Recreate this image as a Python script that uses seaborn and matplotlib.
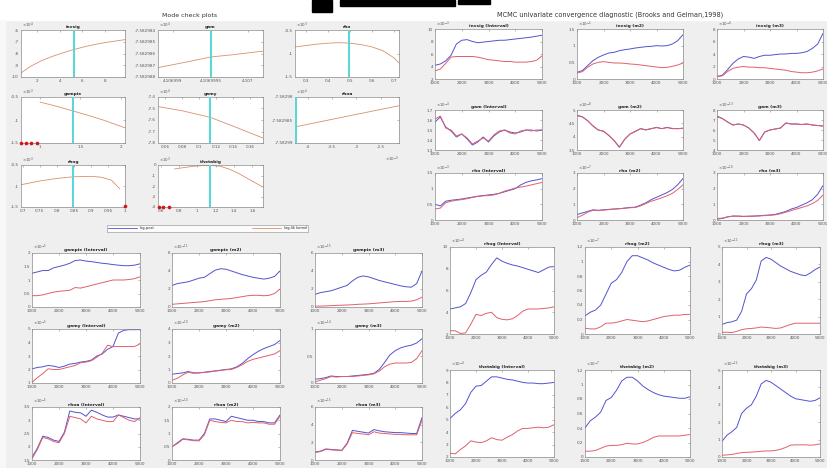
import numpy as np
import pandas as pd
import seaborn as sns
import matplotlib.pyplot as plt
from matplotlib.ticker import FuncFormatter
from matplotlib.patches import Rectangle
from matplotlib.lines import Line2D

W, H = 827, 468
BLUE = '#5252cf'
RED = '#e0606c'
KERNEL = '#d9906e'
CYAN = '#5cd6d6'
DOT = '#d01818'

# ---------------- mode check data (values in displayed units) ----------------
invsig_x = [0.55, 1.48, 2.4, 3.33, 4.25, 5.18, 6.1, 7.03, 7.95, 8.88, 9.8]
invsig_y = [-9.65, -9.05, -8.6, -8.25, -7.95, -7.68, -7.45, -7.25, -7.08, -6.95, -6.82]
invsig_mode = 5.3

gam_x = [4.1069988, 4.1069992, 4.1069995, 4.1069998, 4.1070002]
gam_y = [-7.5829872, -7.5829867, -7.5829863, -7.5829861, -7.5829858]
gam_mode = 4.1069995

rho_x = [0.249, 0.3, 0.35, 0.4, 0.45, 0.5, 0.55, 0.6, 0.65, 0.7, 0.7235]
rho_y = [-0.86, -0.83, -0.8, -0.78, -0.77, -0.78, -0.81, -0.86, -0.94, -1.09, -1.2]
rho_mode = 0.495

gampie_x = [1.0, 1.2, 1.4, 1.6, 1.8, 2.054]
gampie_y = [-0.61, -0.70, -0.80, -0.90, -1.01, -1.17]
gampie_mode = 1.405
gampie_bound = [0.77, 0.83, 0.89, 0.96]

gamy_x = [0.0513, 0.08, 0.1129, 0.14, 0.175]
gamy_y = [-7.483, -7.52, -7.577, -7.654, -7.757]
gamy_mode = 0.1129

rhoa_x = [-4.27, -3.2, -2.12]
rhoa_y = [-7.5829865, -7.5829842, -7.5829819]
rhoa_mode = -4.25

rhog_x = [0.695, 0.75, 0.8, 0.85, 0.9, 0.93, 0.96, 0.985]
rhog_y = [-0.97, -0.88, -0.82, -0.78, -0.77, -0.79, -0.86, -1.07]
rhog_mode = 0.848
rhog_bound = [1.0]

thetabig_x = [0.75, 0.85, 0.95, 1.05, 1.15, 1.25, 1.35, 1.45, 1.55, 1.716]
thetabig_y = [-0.38, -0.25, -0.13, -0.06, -0.04, -0.12, -0.4, -0.8, -1.3, -2.1]
thetabig_mode = 1.14
thetabig_bound = [0.58, 0.63, 0.69]

# ---------------- convergence diagnostic data ----------------
iters = list(range(1000, 5001, 200))

invsig_interval_pooled = [4.2, 4.4, 4.9, 5.8, 7.6, 8.2, 8.3, 8.0, 7.8, 7.9, 8.0, 8.1, 8.2, 8.2, 8.3, 8.4, 8.5, 8.6, 8.7, 8.85, 9.0]
invsig_interval_within = [3.3, 3.6, 4.5, 5.5, 5.6, 5.6, 5.6, 5.6, 5.5, 5.3, 5.1, 5.0, 4.9, 4.8, 4.8, 4.7, 4.7, 4.7, 4.8, 5.0, 5.7]
invsig_m2_pooled = [0.2, 0.25, 0.4, 0.55, 0.65, 0.72, 0.78, 0.8, 0.85, 0.88, 0.9, 0.93, 0.95, 0.97, 0.98, 1.0, 0.99, 1.0, 1.05, 1.15, 1.33]
invsig_m2_within = [0.18, 0.22, 0.35, 0.45, 0.5, 0.52, 0.5, 0.48, 0.48, 0.47, 0.45, 0.44, 0.42, 0.4, 0.38, 0.36, 0.34, 0.35, 0.38, 0.42, 0.48]
invsig_m3_pooled = [0.4, 0.6, 1.5, 2.5, 3.2, 3.6, 3.5, 3.3, 3.6, 3.8, 3.8, 3.9, 4.0, 4.0, 4.1, 4.1, 4.2, 4.4, 4.9, 5.6, 7.3]
invsig_m3_within = [0.4, 0.5, 1.2, 1.7, 1.9, 2.0, 1.9, 1.9, 1.8, 1.8, 1.7, 1.6, 1.5, 1.4, 1.2, 1.1, 1.0, 1.0, 1.1, 1.3, 1.6]

gam_interval_pooled = [1.58, 1.63, 1.53, 1.49, 1.43, 1.46, 1.41, 1.35, 1.38, 1.43, 1.38, 1.44, 1.48, 1.50, 1.48, 1.47, 1.48, 1.50, 1.50, 1.49, 1.50]
gam_interval_within = [1.61, 1.64, 1.52, 1.50, 1.44, 1.46, 1.42, 1.36, 1.39, 1.42, 1.39, 1.45, 1.49, 1.50, 1.47, 1.46, 1.49, 1.50, 1.49, 1.50, 1.50]
gam_m2_pooled = [4.8, 4.75, 4.6, 4.4, 4.25, 4.2, 4.05, 3.85, 3.6, 3.9, 4.1, 4.2, 4.3, 4.25, 4.3, 4.35, 4.3, 4.35, 4.3, 4.3, 4.32]
gam_m2_within = [4.78, 4.74, 4.6, 4.41, 4.25, 4.21, 4.04, 3.86, 3.62, 3.9, 4.1, 4.19, 4.3, 4.26, 4.3, 4.34, 4.3, 4.34, 4.31, 4.3, 4.31]
gam_m3_pooled = [7.4, 7.15, 6.8, 6.5, 6.6, 6.5, 6.2, 5.7, 4.95, 5.8, 6.0, 6.1, 6.2, 6.7, 6.6, 6.6, 6.55, 6.6, 6.5, 6.45, 6.4]
gam_m3_within = [7.3, 7.15, 6.8, 6.5, 6.6, 6.5, 6.2, 5.7, 4.95, 5.8, 6.0, 6.1, 6.2, 6.7, 6.6, 6.6, 6.55, 6.6, 6.5, 6.45, 6.4]

rho_interval_pooled = [0.5, 0.45, 0.6, 0.63, 0.65, 0.67, 0.7, 0.73, 0.76, 0.78, 0.8, 0.82, 0.85, 0.9, 0.95, 1.0, 1.12, 1.2, 1.25, 1.28, 1.32]
rho_interval_within = [0.35, 0.38, 0.55, 0.6, 0.63, 0.65, 0.68, 0.72, 0.75, 0.77, 0.78, 0.8, 0.85, 0.92, 0.97, 1.02, 1.05, 1.08, 1.12, 1.16, 1.2]
rho_m2_pooled = [0.35, 0.45, 0.55, 0.65, 0.62, 0.65, 0.68, 0.7, 0.72, 0.76, 0.8, 0.82, 0.95, 1.1, 1.3, 1.45, 1.6, 1.75, 1.95, 2.25, 2.65]
rho_m2_within = [0.15, 0.3, 0.5, 0.62, 0.6, 0.63, 0.66, 0.7, 0.72, 0.75, 0.78, 0.8, 0.9, 1.05, 1.2, 1.3, 1.42, 1.55, 1.7, 1.95, 2.25]
rho_m3_pooled = [0.05, 0.1, 0.2, 0.25, 0.25, 0.23, 0.24, 0.25, 0.27, 0.3, 0.32, 0.36, 0.45, 0.55, 0.7, 0.8, 0.95, 1.1, 1.3, 1.65, 2.2]
rho_m3_within = [0.1, 0.12, 0.2, 0.25, 0.24, 0.23, 0.24, 0.25, 0.26, 0.28, 0.3, 0.33, 0.4, 0.5, 0.6, 0.7, 0.8, 0.9, 1.05, 1.25, 1.6]

gampie_interval_pooled = [1.25, 1.3, 1.35, 1.35, 1.45, 1.5, 1.55, 1.62, 1.72, 1.74, 1.7, 1.68, 1.65, 1.62, 1.6, 1.57, 1.55, 1.53, 1.53, 1.55, 1.6]
gampie_interval_within = [0.42, 0.42, 0.45, 0.5, 0.55, 0.58, 0.6, 0.62, 0.72, 0.7, 0.75, 0.8, 0.85, 0.9, 0.95, 1.0, 1.0, 1.0, 1.02, 1.05, 1.12]
gampie_m2_pooled = [2.4, 2.6, 2.7, 2.8, 3.0, 3.2, 3.3, 3.7, 4.1, 4.25, 4.2, 4.0, 3.8, 3.6, 3.45, 3.3, 3.2, 3.1, 3.2, 3.4, 4.0]
gampie_m2_within = [0.3, 0.35, 0.4, 0.45, 0.5, 0.55, 0.6, 0.7, 0.8, 0.85, 0.9, 0.95, 1.05, 1.15, 1.25, 1.3, 1.3, 1.25, 1.3, 1.5, 2.0]
gampie_m3_pooled = [1.4, 1.6, 1.7, 1.8, 2.0, 2.2, 2.4, 2.9, 3.3, 3.45, 3.35, 3.15, 2.95, 2.8, 2.65, 2.5, 2.35, 2.25, 2.2, 2.6, 4.0]
gampie_m3_within = [0.1, 0.1, 0.12, 0.15, 0.18, 0.2, 0.22, 0.25, 0.3, 0.32, 0.35, 0.4, 0.45, 0.5, 0.55, 0.6, 0.62, 0.62, 0.65, 0.8, 1.1]

gamy_interval_pooled = [2.05, 2.15, 2.2, 2.3, 2.25, 2.15, 2.25, 2.4, 2.45, 2.55, 2.6, 2.7, 3.0, 3.15, 3.5, 3.7, 4.7, 4.9, 4.95, 4.95, 4.95]
gamy_interval_within = [1.05, 1.4, 1.7, 2.05, 2.0, 2.0, 2.1, 2.2, 2.3, 2.5, 2.55, 2.65, 2.9, 3.2, 3.8, 3.7, 3.7, 3.7, 3.7, 3.7, 3.9]
gamy_m2_pooled = [0.65, 0.7, 0.75, 0.85, 0.75, 0.75, 0.8, 0.85, 0.9, 0.95, 1.0, 1.05, 1.2, 1.45, 1.8, 2.1, 2.35, 2.55, 2.7, 2.85, 3.15]
gamy_m2_within = [0.2, 0.35, 0.6, 0.8, 0.72, 0.75, 0.78, 0.82, 0.88, 0.93, 0.98, 1.0, 1.15, 1.35, 1.6, 1.75, 1.85, 1.95, 2.05, 2.15, 2.4]
gamy_m3_pooled = [0.07, 0.08, 0.1, 0.13, 0.12, 0.12, 0.12, 0.13, 0.14, 0.15, 0.16, 0.18, 0.25, 0.38, 0.52, 0.6, 0.65, 0.68, 0.7, 0.74, 0.82]
gamy_m3_within = [0.02, 0.05, 0.08, 0.12, 0.11, 0.12, 0.12, 0.12, 0.13, 0.14, 0.15, 0.17, 0.22, 0.3, 0.35, 0.37, 0.37, 0.37, 0.38, 0.45, 0.6]

rhoa_interval_pooled = [1.6, 1.95, 2.4, 2.35, 2.25, 2.2, 2.55, 3.35, 3.3, 3.28, 3.15, 3.38, 3.3, 3.2, 3.12, 3.12, 3.2, 3.15, 3.1, 3.05, 3.05]
rhoa_interval_within = [1.55, 1.9, 2.35, 2.3, 2.2, 2.15, 2.5, 3.15, 3.1, 3.05, 2.9, 3.15, 3.05, 3.0, 2.95, 2.95, 3.2, 3.1, 3.0, 2.95, 3.1]
rhoa_m2_pooled = [0.5, 0.65, 0.8, 0.78, 0.75, 0.75, 1.0, 1.55, 1.55, 1.5, 1.45, 1.65, 1.6, 1.55, 1.5, 1.5, 1.45, 1.45, 1.4, 1.4, 1.7]
rhoa_m2_within = [0.5, 0.62, 0.78, 0.76, 0.73, 0.72, 0.95, 1.5, 1.45, 1.42, 1.4, 1.5, 1.45, 1.45, 1.4, 1.42, 1.4, 1.4, 1.35, 1.35, 1.65]
rhoa_m3_pooled = [0.9, 1.0, 1.25, 1.2, 1.15, 1.1, 1.9, 3.35, 3.25, 3.15, 3.05, 3.45, 3.3, 3.2, 3.15, 3.1, 3.1, 3.05, 3.0, 3.0, 4.8]
rhoa_m3_within = [0.85, 0.95, 1.2, 1.15, 1.1, 1.05, 1.8, 3.1, 3.0, 2.95, 2.85, 3.2, 3.05, 3.0, 2.95, 2.9, 2.9, 2.85, 2.85, 2.85, 4.5]

rhog_interval_pooled = [4.3, 4.4, 4.5, 4.8, 5.8, 7.0, 7.4, 7.7, 8.4, 9.0, 8.7, 8.5, 8.35, 8.25, 8.1, 7.95, 7.8, 7.65, 7.9, 8.15, 8.2]
rhog_interval_within = [2.3, 2.3, 2.05, 2.1, 2.9, 3.8, 3.7, 3.9, 4.0, 3.5, 3.35, 3.3, 3.4, 3.7, 4.1, 4.3, 4.3, 4.3, 4.35, 4.4, 4.5]
rhog_m2_pooled = [0.25, 0.3, 0.33, 0.4, 0.55, 0.7, 0.75, 0.85, 1.0, 1.08, 1.08, 1.05, 1.02, 0.98, 0.95, 0.92, 0.89, 0.87, 0.88, 0.92, 0.95]
rhog_m2_within = [0.08, 0.07, 0.07, 0.1, 0.15, 0.15, 0.16, 0.18, 0.2, 0.19, 0.18, 0.17, 0.18, 0.2, 0.22, 0.24, 0.25, 0.26, 0.26, 0.27, 0.27]
rhog_m3_pooled = [0.55, 0.65, 0.7, 0.8, 1.3, 2.3, 2.6, 3.1, 4.2, 4.4, 4.3, 4.1, 3.9, 3.75, 3.6, 3.5, 3.4, 3.35, 3.5, 3.7, 3.85]
rhog_m3_within = [0.1, 0.1, 0.08, 0.15, 0.25, 0.3, 0.32, 0.35, 0.4, 0.38, 0.35, 0.32, 0.35, 0.45, 0.55, 0.62, 0.62, 0.62, 0.62, 0.62, 0.62]

thetabig_interval_pooled = [5.1, 5.5, 5.8, 6.3, 7.2, 7.7, 7.75, 8.1, 8.45, 8.45, 8.35, 8.25, 8.2, 8.1, 8.0, 7.95, 7.95, 7.9, 7.9, 7.95, 8.0]
thetabig_interval_within = [2.3, 2.25, 2.6, 2.9, 3.3, 3.2, 3.15, 3.3, 3.55, 3.4, 3.35, 3.6, 3.8, 4.1, 4.3, 4.3, 4.35, 4.4, 4.35, 4.4, 4.6]
thetabig_m2_pooled = [0.4, 0.5, 0.55, 0.62, 0.78, 0.82, 0.92, 1.05, 1.1, 1.1, 1.05, 0.98, 0.93, 0.89, 0.86, 0.84, 0.83, 0.82, 0.81, 0.81, 0.83]
thetabig_m2_within = [0.08, 0.08, 0.09, 0.12, 0.15, 0.16, 0.16, 0.17, 0.19, 0.18, 0.18, 0.2, 0.23, 0.27, 0.29, 0.29, 0.29, 0.29, 0.29, 0.3, 0.31]
thetabig_m3_pooled = [0.9, 1.25, 1.45, 1.7, 2.5, 2.8, 3.0, 3.5, 4.2, 4.4, 4.3, 4.1, 3.9, 3.7, 3.5, 3.35, 3.3, 3.25, 3.2, 3.25, 3.4]
thetabig_m3_within = [0.1, 0.12, 0.15, 0.2, 0.25, 0.27, 0.28, 0.3, 0.33, 0.35, 0.35, 0.38, 0.45, 0.55, 0.68, 0.7, 0.7, 0.7, 0.68, 0.7, 0.75]


sns.set_style('white')
plt.rcParams['font.family'] = ['DejaVu Sans']

fig = plt.figure(figsize=(W / 100, H / 100), dpi=100, facecolor='#efefef')

# white header strip + cropped black heading from the source page
fig.patches.append(Rectangle((0, 1 - 20 / H), 1, 20 / H, transform=fig.transFigure, color='white', zorder=0))
fig.patches.append(Rectangle((0, 0), 5 / W, 1 - 20 / H, transform=fig.transFigure, color='#f8f8f8', zorder=0))
fig.patches.append(Rectangle((340 / W, 1 - 6 / H), 115 / W, 6 / H, transform=fig.transFigure, color='black', zorder=1))
fig.patches.append(Rectangle((458 / W, 1 - 4 / H), 32 / W, 4 / H, transform=fig.transFigure, color='black', zorder=1))
fig.patches.append(Rectangle((312 / W, 1 - 12 / H), 20 / W, 12 / H, transform=fig.transFigure, color='black', zorder=1))


def px_axes(l, t, r, b):
    return fig.add_axes([l / W, 1 - b / H, (r - l) / W, (b - t) / H])


def style(ax, title, exp, xlim, xticks, ylim, yticks, xfmt='{:g}', yfmt='{:g}'):
    ax.set_facecolor('white')
    ax.set_xlim(xlim)
    ax.set_ylim(ylim)
    ax.set_xticks(xticks)
    ax.set_yticks(yticks)
    ax.xaxis.set_major_formatter(FuncFormatter(lambda v, p: xfmt.format(v)))
    ax.yaxis.set_major_formatter(FuncFormatter(lambda v, p: yfmt.format(v)))
    ax.tick_params(direction='in', length=1.4, width=0.4, labelsize=3, labelcolor='#555555',
                   color='#888888', pad=1.5, top=True, right=True)
    for s in ax.spines.values():
        s.set_color('#8a8a8a')
        s.set_linewidth(0.5)
    ax.set_xlabel('')
    ax.set_ylabel('')
    ax.set_title(title, fontsize=3.2, fontweight='bold', pad=1.2, color='#222222')
    ax.text(0.01, 1.01, exp, transform=ax.transAxes, fontsize=2.8, ha='left', va='bottom', color='#555555')


def mode_panel(rect, title, exp, x, y, mode, xlim, xticks, ylim, yticks,
               bound=None, xfmt='{:g}', yfmt='{:g}'):
    ax = px_axes(*rect)
    sns.lineplot(x=x, y=y, color=KERNEL, lw=0.6, ax=ax)
    ax.axvline(mode, color=CYAN, lw=1.5, zorder=3)
    if bound:
        yb = [ylim[0]] * len(bound)
        if bound == rhog_bound:
            yb = [ylim[0] + 0.03] * len(bound)
        sns.scatterplot(x=bound, y=yb, color=DOT, s=7, linewidth=0, ax=ax, clip_on=False, zorder=5)
    style(ax, title, exp, xlim, xticks, ylim, yticks, xfmt, yfmt)
    return ax


def conv_panel(rect, title, exp, pooled, within, ylim, yticks):
    ax = px_axes(*rect)
    df = pd.DataFrame({'iter': iters * 2,
                       'value': pooled + within,
                       'line': ['pooled'] * len(iters) + ['within'] * len(iters)})
    sns.lineplot(data=df, x='iter', y='value', hue='line', palette={'pooled': BLUE, 'within': RED},
                 lw=0.7, legend=False, ax=ax)
    style(ax, title, exp, (1000, 5000), [1000, 2000, 3000, 4000, 5000], ylim, yticks)
    return ax


# ---------------- Mode check plots ----------------
fig.text(190 / W, 1 - 15 / H, 'Mode check plots', fontsize=4.5, ha='center', va='center', color='#333333')
cols = [(21, 125), (158, 263), (295, 399)]
rows = [(30, 77), (97, 143), (165, 207)]

mode_panel((cols[0][0], rows[0][0], cols[0][1], rows[0][1]), 'invsig', r'$\times10^{4}$',
           invsig_x, invsig_y, invsig_mode, (0.55, 9.8), [2, 4, 6, 8], (-10, -6), [-10, -9, -8, -7, -6])
mode_panel((cols[1][0], rows[0][0], cols[1][1], rows[0][1]), 'gam', r'$\times10^{4}$',
           gam_x, gam_y, gam_mode, (4.1069988, 4.1070002), [4.106999, 4.1069995, 4.107],
           (-7.582988, -7.582984), [-7.582988, -7.582987, -7.582986, -7.582985, -7.582984],
           xfmt='{:.8g}', yfmt='{:.7g}')
mode_panel((cols[2][0], rows[0][0], cols[2][1], rows[0][1]), 'rho', r'$\times10^{3}$',
           rho_x, rho_y, rho_mode, (0.249, 0.7235), [0.3, 0.4, 0.5, 0.6, 0.7], (-1.5, -0.5), [-1.5, -1, -0.5])
mode_panel((cols[0][0], rows[1][0], cols[0][1], rows[1][1]), 'gampie', r'$\times10^{3}$',
           gampie_x, gampie_y, gampie_mode, (0.764, 2.054), [1, 1.5, 2], (-1.5, -0.5), [-1.5, -1, -0.5],
           bound=gampie_bound)
mode_panel((cols[1][0], rows[1][0], cols[1][1], rows[1][1]), 'gamy', r'$\times10^{4}$',
           gamy_x, gamy_y, gamy_mode, (0.0513, 0.175), [0.06, 0.08, 0.1, 0.12, 0.14, 0.16],
           (-7.8, -7.4), [-7.8, -7.7, -7.6, -7.5, -7.4])
ax_rhoa = mode_panel((cols[2][0], rows[1][0], cols[2][1], rows[1][1]), 'rhoa', r'$\times10^{4}$',
                     rhoa_x, rhoa_y, rhoa_mode, (-4.27, -2.12), [-4, -3.5, -3, -2.5],
                     (-7.58299, -7.58298), [-7.58299, -7.582985, -7.58298], yfmt='{:.7g}')
ax_rhoa.text(1.0, -0.26, r'$\times10^{-3}$', transform=ax_rhoa.transAxes, fontsize=2.8,
             ha='right', va='top', color='#555555')
mode_panel((cols[0][0], rows[2][0], cols[0][1], rows[2][1]), 'rhog', r'$\times10^{3}$',
           rhog_x, rhog_y, rhog_mode, (0.695, 1.0), [0.7, 0.75, 0.8, 0.85, 0.9, 0.95, 1],
           (-1.5, -0.5), [-1.5, -1, -0.5], bound=rhog_bound)
mode_panel((cols[1][0], rows[2][0], cols[1][1], rows[2][1]), 'thetabig', r'$\times10^{3}$',
           thetabig_x, thetabig_y, thetabig_mode, (0.571, 1.716), [0.6, 0.8, 1, 1.2, 1.4, 1.6],
           (-4, 0), [-4, -3, -2, -1, 0], bound=thetabig_bound)

leg_ax = px_axes(105, 224, 310, 233)
leg_ax.axis('off')
handles = [Line2D([], [], color=BLUE, lw=0.6), Line2D([], [], color=KERNEL, lw=0.6)]
leg = leg_ax.legend(handles, ['log-post', 'log-lik kernel'], loc='center', ncol=2, mode='expand',
                    bbox_to_anchor=(0, 0, 1, 1), fontsize=2.6, handlelength=8, frameon=True,
                    fancybox=False, borderpad=0.4, columnspacing=2)
leg.get_frame().set_edgecolor('#8a8a8a')
leg.get_frame().set_linewidth(0.5)

# ---------------- MCMC convergence diagnostics ----------------
fig.text(610 / W, 1 - 15 / H, 'MCMC univariate convergence diagnostic (Brooks and Gelman,1998)',
         fontsize=4.7, ha='center', va='center', color='#333333')

tr_cols = [(435, 542), (577, 683), (717, 823)]
tr_rows = [(29, 79), (110, 150), (173, 220)]
bl_cols = [(32, 140), (172, 280), (315, 422)]
bl_rows = [(253, 307), (329, 383), (407, 460)]
br_cols = [(450, 554), (585, 690), (722, 820)]
br_rows = [(247, 334), (370, 457)]


def cell(cols_, rows_, i, j):
    return (cols_[j][0], rows_[i][0], cols_[j][1], rows_[i][1])


conv_panel(cell(tr_cols, tr_rows, 0, 0), 'invsig (Interval)', r'$\times10^{-3}$',
           invsig_interval_pooled, invsig_interval_within, (2, 10), [2, 4, 6, 8, 10])
conv_panel(cell(tr_cols, tr_rows, 0, 1), 'invsig (m2)', r'$\times10^{-5}$',
           invsig_m2_pooled, invsig_m2_within, (0, 1.5), [0, 0.5, 1, 1.5])
conv_panel(cell(tr_cols, tr_rows, 0, 2), 'invsig (m3)', r'$\times10^{-8}$',
           invsig_m3_pooled, invsig_m3_within, (0, 8), [0, 2, 4, 6, 8])
conv_panel(cell(tr_cols, tr_rows, 1, 0), 'gam (Interval)', r'$\times10^{-4}$',
           gam_interval_pooled, gam_interval_within, (1.3, 1.7), [1.3, 1.4, 1.5, 1.6, 1.7])
conv_panel(cell(tr_cols, tr_rows, 1, 1), 'gam (m2)', r'$\times10^{-8}$',
           gam_m2_pooled, gam_m2_within, (3.5, 5), [3.5, 4, 4.5, 5])
conv_panel(cell(tr_cols, tr_rows, 1, 2), 'gam (m3)', r'$\times10^{-13}$',
           gam_m3_pooled, gam_m3_within, (4, 8), [4, 5, 6, 7, 8])
conv_panel(cell(tr_cols, tr_rows, 2, 0), 'rho (Interval)', r'$\times10^{-3}$',
           rho_interval_pooled, rho_interval_within, (0, 1.5), [0, 0.5, 1, 1.5])
conv_panel(cell(tr_cols, tr_rows, 2, 1), 'rho (m2)', r'$\times10^{-7}$',
           rho_m2_pooled, rho_m2_within, (0, 3), [0, 1, 2, 3])
conv_panel(cell(tr_cols, tr_rows, 2, 2), 'rho (m3)', r'$\times10^{-10}$',
           rho_m3_pooled, rho_m3_within, (0, 3), [0, 1, 2, 3])

conv_panel(cell(bl_cols, bl_rows, 0, 0), 'gampie (Interval)', r'$\times10^{-5}$',
           gampie_interval_pooled, gampie_interval_within, (0, 2), [0, 0.5, 1, 1.5, 2])
conv_panel(cell(bl_cols, bl_rows, 0, 1), 'gampie (m2)', r'$\times10^{-11}$',
           gampie_m2_pooled, gampie_m2_within, (0, 6), [0, 2, 4, 6])
conv_panel(cell(bl_cols, bl_rows, 0, 2), 'gampie (m3)', r'$\times10^{-15}$',
           gampie_m3_pooled, gampie_m3_within, (0, 6), [0, 2, 4, 6])
conv_panel(cell(bl_cols, bl_rows, 1, 0), 'gamy (Interval)', r'$\times10^{-5}$',
           gamy_interval_pooled, gamy_interval_within, (1, 5), [1, 2, 3, 4, 5])
conv_panel(cell(bl_cols, bl_rows, 1, 1), 'gamy (m2)', r'$\times10^{-10}$',
           gamy_m2_pooled, gamy_m2_within, (0, 4), [0, 1, 2, 3, 4])
conv_panel(cell(bl_cols, bl_rows, 1, 2), 'gamy (m3)', r'$\times10^{-14}$',
           gamy_m3_pooled, gamy_m3_within, (0, 1), [0, 0.5, 1])
conv_panel(cell(bl_cols, bl_rows, 2, 0), 'rhoa (Interval)', r'$\times10^{-5}$',
           rhoa_interval_pooled, rhoa_interval_within, (1.5, 3.5), [1.5, 2, 2.5, 3, 3.5])
conv_panel(cell(bl_cols, bl_rows, 2, 1), 'rhoa (m2)', r'$\times10^{-10}$',
           rhoa_m2_pooled, rhoa_m2_within, (0, 2), [0, 0.5, 1, 1.5, 2])
conv_panel(cell(bl_cols, bl_rows, 2, 2), 'rhoa (m3)', r'$\times10^{-15}$',
           rhoa_m3_pooled, rhoa_m3_within, (0, 6), [0, 2, 4, 6])

conv_panel(cell(br_cols, br_rows, 0, 0), 'rhog (Interval)', r'$\times10^{-4}$',
           rhog_interval_pooled, rhog_interval_within, (2, 10), [2, 4, 6, 8, 10])
conv_panel(cell(br_cols, br_rows, 0, 1), 'rhog (m2)', r'$\times10^{-7}$',
           rhog_m2_pooled, rhog_m2_within, (0, 1.2), [0, 0.2, 0.4, 0.6, 0.8, 1, 1.2])
conv_panel(cell(br_cols, br_rows, 0, 2), 'rhog (m3)', r'$\times10^{-11}$',
           rhog_m3_pooled, rhog_m3_within, (0, 5), [0, 1, 2, 3, 4, 5])
conv_panel(cell(br_cols, br_rows, 1, 0), 'thetabig (Interval)', r'$\times10^{-4}$',
           thetabig_interval_pooled, thetabig_interval_within, (2, 9), [2, 3, 4, 5, 6, 7, 8, 9])
conv_panel(cell(br_cols, br_rows, 1, 1), 'thetabig (m2)', r'$\times10^{-7}$',
           thetabig_m2_pooled, thetabig_m2_within, (0, 1.2), [0, 0.2, 0.4, 0.6, 0.8, 1, 1.2])
conv_panel(cell(br_cols, br_rows, 1, 2), 'thetabig (m3)', r'$\times10^{-11}$',
           thetabig_m3_pooled, thetabig_m3_within, (0, 5), [0, 1, 2, 3, 4, 5])

fig.savefig('out.png', dpi=100, facecolor=fig.get_facecolor())
